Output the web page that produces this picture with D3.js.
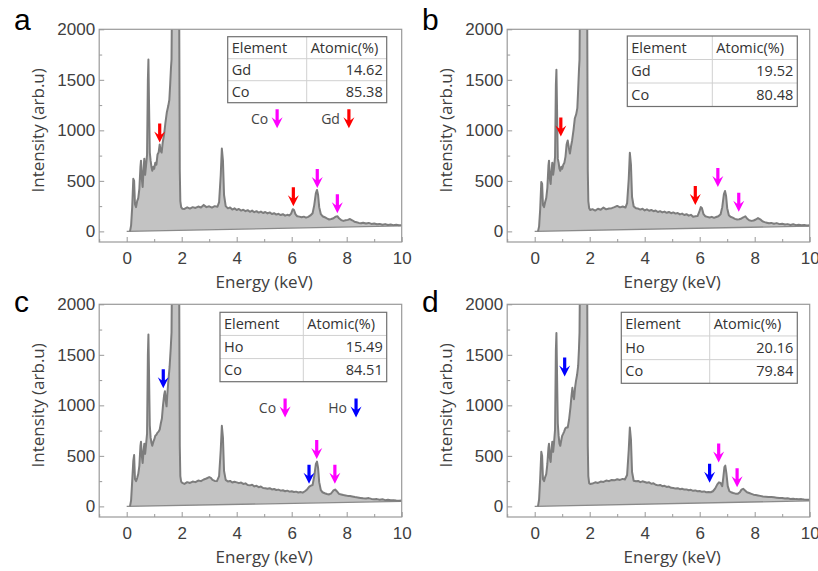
<!DOCTYPE html>
<html>
<head>
<meta charset="utf-8">
<script src="https://cdn.jsdelivr.net/npm/d3@7"></script>
<style>
body { margin: 0; background: #fff; }
svg { font-family: "Open Sans", sans-serif; }
.tick text { fill: #404040; font-size: 17px; }
.tick line { stroke: #999; }
.ttl { fill: #404040; font-size: 17px; }
.tbl text { fill: #333; font-size: 14.5px; }
</style>
</head>
<body>
<svg id="chart" width="818" height="571"></svg>
<script>
// spectra, [energy keV, counts]
var specA = [[0.12,0],[0.16,60],[0.2,240],[0.24,520],[0.27,500],[0.3,270],[0.34,240],[0.38,300],[0.42,330],[0.46,420],[0.5,640],[0.52,700],[0.55,520],[0.58,440],[0.61,600],[0.64,720],[0.67,560],[0.7,640],[0.74,760],[0.77,1500],[0.79,1700],[0.81,1300],[0.84,780],[0.87,700],[0.9,640],[0.93,600],[0.97,640],[1.0,620],[1.04,680],[1.08,660],[1.12,760],[1.16,780],[1.2,860],[1.23,800],[1.27,780],[1.31,880],[1.36,960],[1.41,1080],[1.46,1180],[1.51,1240],[1.55,1300],[1.58,1450],[1.61,1620],[1.63,1700],[1.65,2400],[1.74,9000],[1.85,6000],[1.91,2100],[1.93,600],[1.95,300],[1.98,240],
  [2.02,225],[2.1,222],[2.2,238],[2.3,226],[2.4,240],[2.5,232],[2.6,246],[2.7,236],[2.8,262],[2.9,240],[3.0,248],[3.1,236],[3.2,250],[3.3,244],[3.36,290],[3.42,560],[3.46,820],[3.5,700],[3.54,360],[3.6,250],[3.68,228],[3.76,236],[3.84,216],[3.92,228],[4.0,212],[4.08,222],[4.16,206],[4.24,214],[4.32,200],[4.4,210],[4.48,194],[4.56,206],[4.64,190],[4.72,200],[4.8,186],[4.88,196],[4.96,182],[5.04,192],[5.12,178],[5.2,188],[5.28,172],[5.36,180],[5.44,166],[5.52,174],[5.6,162],[5.68,170],[5.76,156],[5.84,164],[5.92,158],[5.98,176],[6.04,220],[6.08,214],[6.14,168],[6.2,150],[6.28,146],[6.36,140],[6.44,146],[6.52,136],[6.6,144],[6.68,158],[6.76,180],[6.82,260],[6.88,380],[6.92,410],[6.96,360],[7.0,240],[7.06,170],[7.12,150],[7.2,140],[7.28,128],[7.36,118],[7.44,122],[7.52,130],[7.6,146],[7.66,150],[7.72,130],[7.8,112],[7.88,104],[7.96,110],[8.04,114],[8.12,122],[8.2,110],[8.28,96],[8.36,90],[8.44,84],[8.52,80],[8.6,86],[8.7,78],[8.8,84],[8.9,74],[9.0,78],[9.1,70],[9.2,74],[9.3,66],[9.4,72],[9.5,64],[9.6,68],[9.7,62],[9.8,66],[9.9,60],[10.0,62]];

var specB = [[0.12,0],[0.16,50],[0.2,220],[0.24,490],[0.27,470],[0.3,260],[0.34,240],[0.38,290],[0.42,330],[0.46,430],[0.5,650],[0.52,700],[0.55,520],[0.58,470],[0.61,590],[0.64,680],[0.67,560],[0.7,620],[0.74,740],[0.77,1450],[0.79,1600],[0.81,1250],[0.84,720],[0.87,680],[0.9,620],[0.93,600],[0.97,640],[1.0,620],[1.04,660],[1.08,680],[1.12,740],[1.16,860],[1.2,900],[1.24,830],[1.28,770],[1.32,840],[1.36,900],[1.41,1000],[1.46,1120],[1.51,1160],[1.55,1220],[1.58,1400],[1.61,1600],[1.63,1700],[1.65,2400],[1.74,9000],[1.85,6000],[1.91,2100],[1.93,600],[1.95,300],[1.98,230],
  [2.02,212],[2.1,220],[2.2,206],[2.3,224],[2.4,214],[2.5,236],[2.6,218],[2.7,226],[2.8,230],[2.9,240],[3.0,252],[3.1,238],[3.2,246],[3.3,236],[3.36,280],[3.42,520],[3.46,778],[3.5,660],[3.54,340],[3.6,246],[3.68,230],[3.76,226],[3.84,216],[3.92,224],[4.0,208],[4.08,218],[4.16,204],[4.24,212],[4.32,200],[4.4,206],[4.48,192],[4.56,200],[4.64,188],[4.72,196],[4.8,184],[4.88,192],[4.96,180],[5.04,188],[5.12,176],[5.2,182],[5.28,168],[5.36,176],[5.44,162],[5.52,170],[5.6,156],[5.68,164],[5.76,144],[5.84,150],[5.92,152],[5.98,190],[6.04,240],[6.08,232],[6.14,170],[6.2,150],[6.28,144],[6.36,138],[6.44,144],[6.52,134],[6.6,142],[6.68,150],[6.76,170],[6.82,240],[6.88,370],[6.92,400],[6.96,350],[7.0,230],[7.06,160],[7.12,145],[7.2,136],[7.28,124],[7.36,118],[7.44,120],[7.52,128],[7.6,140],[7.66,150],[7.72,128],[7.8,110],[7.88,104],[7.96,108],[8.04,118],[8.12,132],[8.2,120],[8.28,100],[8.36,92],[8.44,86],[8.52,80],[8.6,84],[8.7,76],[8.8,82],[8.9,72],[9.0,76],[9.1,68],[9.2,72],[9.3,64],[9.4,70],[9.5,62],[9.6,66],[9.7,60],[9.8,64],[9.9,58],[10.0,60]];

var specC = [[0.12,0],[0.16,60],[0.2,250],[0.24,450],[0.27,508],[0.3,270],[0.34,250],[0.38,280],[0.42,320],[0.46,400],[0.5,600],[0.52,640],[0.55,500],[0.58,430],[0.61,540],[0.64,620],[0.67,520],[0.7,600],[0.74,720],[0.77,1500],[0.79,1700],[0.81,1350],[0.84,800],[0.87,680],[0.9,630],[0.93,600],[0.97,640],[1.0,660],[1.04,700],[1.08,710],[1.12,730],[1.16,740],[1.2,760],[1.24,820],[1.28,870],[1.32,1000],[1.36,1100],[1.39,1140],[1.42,1040],[1.45,990],[1.48,1120],[1.52,1260],[1.56,1380],[1.6,1560],[1.63,1720],[1.65,2400],[1.74,9000],[1.85,6000],[1.91,2100],[1.93,600],[1.95,300],[1.98,245],
  [2.02,232],[2.1,222],[2.2,240],[2.3,232],[2.4,246],[2.5,240],[2.6,256],[2.7,250],[2.8,266],[2.9,276],[3.0,290],[3.06,282],[3.12,262],[3.2,252],[3.28,250],[3.36,300],[3.42,560],[3.46,797],[3.5,680],[3.54,350],[3.6,262],[3.68,246],[3.76,252],[3.84,236],[3.92,244],[4.0,238],[4.08,230],[4.16,236],[4.24,222],[4.32,228],[4.4,212],[4.48,208],[4.56,214],[4.64,198],[4.72,204],[4.8,190],[4.88,196],[4.96,182],[5.04,180],[5.12,174],[5.2,180],[5.28,168],[5.36,172],[5.44,162],[5.52,166],[5.6,156],[5.68,160],[5.76,150],[5.84,156],[5.92,146],[6.0,150],[6.08,142],[6.16,146],[6.24,138],[6.32,142],[6.4,136],[6.48,150],[6.56,168],[6.64,196],[6.7,206],[6.76,212],[6.82,300],[6.88,420],[6.92,443],[6.96,380],[7.0,240],[7.06,160],[7.12,140],[7.2,130],[7.28,122],[7.36,118],[7.44,130],[7.52,158],[7.58,167],[7.64,150],[7.72,124],[7.8,118],[7.88,112],[7.96,108],[8.04,104],[8.12,102],[8.2,98],[8.3,92],[8.4,88],[8.5,84],[8.6,80],[8.7,78],[8.8,82],[8.9,74],[9.0,70],[9.1,72],[9.2,66],[9.3,70],[9.4,62],[9.5,66],[9.6,60],[9.7,62],[9.8,58],[9.9,56],[10.0,58]];

var specD = [[0.12,0],[0.16,70],[0.2,280],[0.24,541],[0.27,500],[0.3,270],[0.34,250],[0.38,290],[0.42,320],[0.46,420],[0.5,580],[0.52,620],[0.55,480],[0.58,440],[0.61,560],[0.64,640],[0.67,540],[0.7,620],[0.74,760],[0.77,1550],[0.79,1715],[0.81,1350],[0.84,820],[0.87,700],[0.9,620],[0.93,600],[0.97,660],[1.0,700],[1.03,715],[1.07,740],[1.11,770],[1.15,780],[1.2,780],[1.25,860],[1.3,980],[1.34,1100],[1.37,1174],[1.4,1100],[1.43,1060],[1.47,1180],[1.5,1240],[1.54,1300],[1.58,1390],[1.61,1560],[1.63,1720],[1.65,2400],[1.74,9000],[1.85,6000],[1.91,2100],[1.93,600],[1.95,300],[1.98,230],
  [2.02,222],[2.1,226],[2.2,238],[2.3,232],[2.4,246],[2.5,242],[2.6,256],[2.7,250],[2.8,262],[2.9,258],[3.0,268],[3.1,262],[3.2,272],[3.28,266],[3.36,310],[3.42,560],[3.46,780],[3.5,660],[3.54,340],[3.6,254],[3.68,248],[3.76,252],[3.84,240],[3.92,248],[4.0,242],[4.08,234],[4.16,238],[4.24,224],[4.32,228],[4.4,214],[4.48,208],[4.56,212],[4.64,200],[4.72,204],[4.8,192],[4.88,196],[4.96,184],[5.04,182],[5.12,176],[5.2,180],[5.28,170],[5.36,174],[5.44,166],[5.52,168],[5.6,160],[5.68,164],[5.76,154],[5.84,158],[5.92,150],[6.0,152],[6.08,144],[6.16,148],[6.24,140],[6.32,142],[6.4,140],[6.48,150],[6.56,176],[6.64,218],[6.7,238],[6.76,232],[6.82,200],[6.86,290],[6.9,390],[6.93,403],[6.97,330],[7.02,200],[7.08,150],[7.14,140],[7.22,132],[7.3,126],[7.38,124],[7.46,140],[7.52,166],[7.58,174],[7.64,160],[7.72,140],[7.8,132],[7.88,124],[7.96,116],[8.04,112],[8.12,108],[8.2,104],[8.3,98],[8.4,96],[8.5,92],[8.6,94],[8.7,90],[8.8,86],[8.9,82],[9.0,84],[9.1,78],[9.2,80],[9.3,74],[9.4,76],[9.5,72],[9.6,70],[9.7,72],[9.8,68],[9.9,66],[10.0,66]];

// fitted background under each spectrum
var bgA = [[0,0],[10,55]];
var bgB = [[0,0],[10,52]];
var bgC = [[0,0],[10,50]];
var bgD = [[0,0],[10,55]];

// composition tables
var elemA = ["Gd", "Co"], atomA = ["14.62", "85.38"];
var elemB = ["Gd", "Co"], atomB = ["19.52", "80.48"];
var elemC = ["Ho", "Co"], atomC = ["15.49", "84.51"];
var elemD = ["Ho", "Co"], atomD = ["20.16", "79.84"];

// peak markers: [energy, counts at arrow tip, element]
var arrowsA = [[1.2,880,"Gd"],[6.06,250,"Gd"],[6.93,430,"Co"],[7.66,180,"Co"]];
var arrowsB = [[0.95,940,"Gd"],[5.84,260,"Gd"],[6.66,440,"Co"],[7.42,195,"Co"]];
var arrowsC = [[1.33,1170,"Ho"],[6.63,225,"Ho"],[6.91,470,"Co"],[7.57,225,"Co"]];
var arrowsD = [[1.09,1285,"Ho"],[6.36,235,"Ho"],[6.69,435,"Co"],[7.36,190,"Co"]];

// key entries: [label, energy, counts at tip]
var keyA = [["Co",5.47,1020],["Gd",8.08,1020]];
var keyC = [["Co",5.76,880],["Ho",8.34,880]];

var elemColor = {Co: "#ff00ff", Gd: "#ff0000", Ho: "#0000ff"};

var xTicks = [0, 2, 4, 6, 8, 10];
var yTicks = [0, 500, 1000, 1500, 2000];

var panels = [
  {id:"a", ox:0,   oy:0,   spec:specA, bg:bgA, elem:elemA, atom:atomA, arrows:arrowsA, key:keyA,
   tbl:[227.7, 36.7, 159, 66, 79], ly:30},
  {id:"b", ox:408, oy:0,   spec:specB, bg:bgB, elem:elemB, atom:atomB, arrows:arrowsB, key:null,
   tbl:[219.3, 36, 170, 70.5, 85], ly:30},
  {id:"c", ox:0,   oy:275, spec:specC, bg:bgC, elem:elemC, atom:atomC, arrows:arrowsC, key:keyC,
   tbl:[220, 37.3, 166.7, 69.4, 83.3], ly:37},
  {id:"d", ox:408, oy:275, spec:specD, bg:bgD, elem:elemD, atom:atomD, arrows:arrowsD, key:null,
   tbl:[213.3, 37.3, 176, 71, 88.4], ly:37}
];

var L = 99.2, R = 401.7, T = 29.3, B = 242;

var x = d3.scaleLinear().domain([-1, 10]).range([L, R]);
var y = d3.scaleLinear().domain([-105, 2000]).range([B, T]);

var svg = d3.select("#chart");

svg.append("defs").append("clipPath").attr("id", "plotclip")
  .append("rect").attr("x", L).attr("y", T).attr("width", R - L).attr("height", B - T);

var line = d3.line().x(function(d){ return x(d[0]); }).y(function(d){ return y(d[1]); });

// down arrow with notched head, tip at origin
var arrowPath = "M0,0 L-5.5,-11 L-1.6,-8 L-1.6,-19 L1.6,-19 L1.6,-8 L5.5,-11 Z";

panels.forEach(function(p) {
  var g = svg.append("g").attr("transform", "translate(" + p.ox + "," + p.oy + ")");

  var plot = g.append("g").attr("clip-path", "url(#plotclip)");

  // filled area between spectrum and background
  var poly = p.spec.concat(p.bg.slice().reverse());
  plot.append("path").attr("d", line(poly) + "Z")
    .attr("fill", "#c3c3c3").attr("stroke", "none");
  plot.append("path").attr("d", line(p.bg))
    .attr("fill", "none").attr("stroke", "#8a8a8a").attr("stroke-width", 1.3);
  plot.append("path").attr("d", line(p.spec))
    .attr("fill", "none").attr("stroke", "#7d7d7d").attr("stroke-width", 2)
    .attr("stroke-linejoin", "round");

  // axes, ticks pointing inward
  var xa = g.append("g").attr("transform", "translate(0," + B + ")")
    .call(d3.axisBottom(x).tickValues(d3.range(-1, 10.01, 1)).tickSizeInner(-4).tickSizeOuter(0)
      .tickFormat(function(d){ return xTicks.indexOf(d) >= 0 ? d : ""; }));
  xa.selectAll(".tick line").attr("y2", function(d){ return xTicks.indexOf(d) >= 0 ? -5 : -3; });
  xa.selectAll(".tick text").attr("y", 10).attr("dy", "0.71em");
  xa.select(".domain").remove();

  var ya = g.append("g").attr("transform", "translate(" + L + ",0)")
    .call(d3.axisLeft(y).tickValues(d3.range(0, 2001, 250)).tickSizeInner(-4).tickSizeOuter(0)
      .tickFormat(function(d){ return yTicks.indexOf(d) >= 0 ? d : ""; }));
  ya.selectAll(".tick line").attr("x2", function(d){ return yTicks.indexOf(d) >= 0 ? 5 : 3; });
  ya.selectAll(".tick text").attr("x", -4);
  ya.select(".domain").remove();

  g.append("rect").attr("x", L).attr("y", T).attr("width", R - L).attr("height", B - T)
    .attr("fill", "none").attr("stroke", "#9a9a9a").attr("stroke-width", 1.2);

  g.append("text").attr("class", "ttl").attr("text-anchor", "middle")
    .attr("x", (x(0) + x(10)) / 2).attr("y", 288).text("Energy (keV)");
  g.append("text").attr("class", "ttl").attr("text-anchor", "middle")
    .attr("transform", "translate(44," + ((y(0) + y(2000)) / 2) + ") rotate(-90)")
    .text("Intensity (arb.u)");

  g.append("text").attr("x", 14).attr("y", p.ly)
    .attr("font-family", "Liberation Sans, Arial, sans-serif").attr("font-size", 30)
    .attr("fill", "#000").text(p.id);

  // peak arrows
  g.selectAll(".pk").data(p.arrows).enter().append("path")
    .attr("class", "pk").attr("d", arrowPath)
    .attr("transform", function(d){ return "translate(" + x(d[0]) + "," + y(d[1]) + ")"; })
    .attr("fill", function(d){ return elemColor[d[2]]; });

  // element key
  if (p.key) {
    var k = g.selectAll(".key").data(p.key).enter().append("g").attr("class", "key")
      .attr("transform", function(d){ return "translate(" + x(d[1]) + "," + y(d[2]) + ")"; });
    k.append("path").attr("d", arrowPath).attr("fill", function(d){ return elemColor[d[0]]; });
    k.append("text").attr("x", -9).attr("y", -4).attr("text-anchor", "end")
      .attr("font-size", 14).attr("fill", "#444").text(function(d){ return d[0]; });
  }

  // composition table
  var t = p.tbl, tx = t[0], ty = t[1], tw = t[2], th = t[3], c1 = t[4], rh = th / 3;
  var tg = g.append("g").attr("class", "tbl");
  tg.append("rect").attr("x", tx).attr("y", ty).attr("width", tw).attr("height", th)
    .attr("fill", "#fff");
  [1, 2].forEach(function(i) {
    tg.append("line").attr("x1", tx).attr("x2", tx + tw)
      .attr("y1", ty + rh * i).attr("y2", ty + rh * i)
      .attr("stroke", "#d0d0d0").attr("stroke-width", 1);
  });
  tg.append("line").attr("x1", tx + c1).attr("x2", tx + c1).attr("y1", ty).attr("y2", ty + th)
    .attr("stroke", "#d0d0d0").attr("stroke-width", 1);
  tg.append("rect").attr("x", tx).attr("y", ty).attr("width", tw).attr("height", th)
    .attr("fill", "none").attr("stroke", "#707070").attr("stroke-width", 1.2);

  var rows = [["Element", "Atomic(%)"]].concat(p.elem.map(function(e, i){ return [e, p.atom[i]]; }));
  rows.forEach(function(r, i) {
    var cy = ty + rh * i + rh / 2 + 5;
    tg.append("text").attr("x", tx + 4).attr("y", cy).text(r[0]);
    if (i === 0) {
      tg.append("text").attr("x", tx + c1 + 4).attr("y", cy).text(r[1]);
    } else {
      tg.append("text").attr("x", tx + tw - 4).attr("y", cy).attr("text-anchor", "end").text(r[1]);
    }
  });
});
</script>
</body>
</html>
